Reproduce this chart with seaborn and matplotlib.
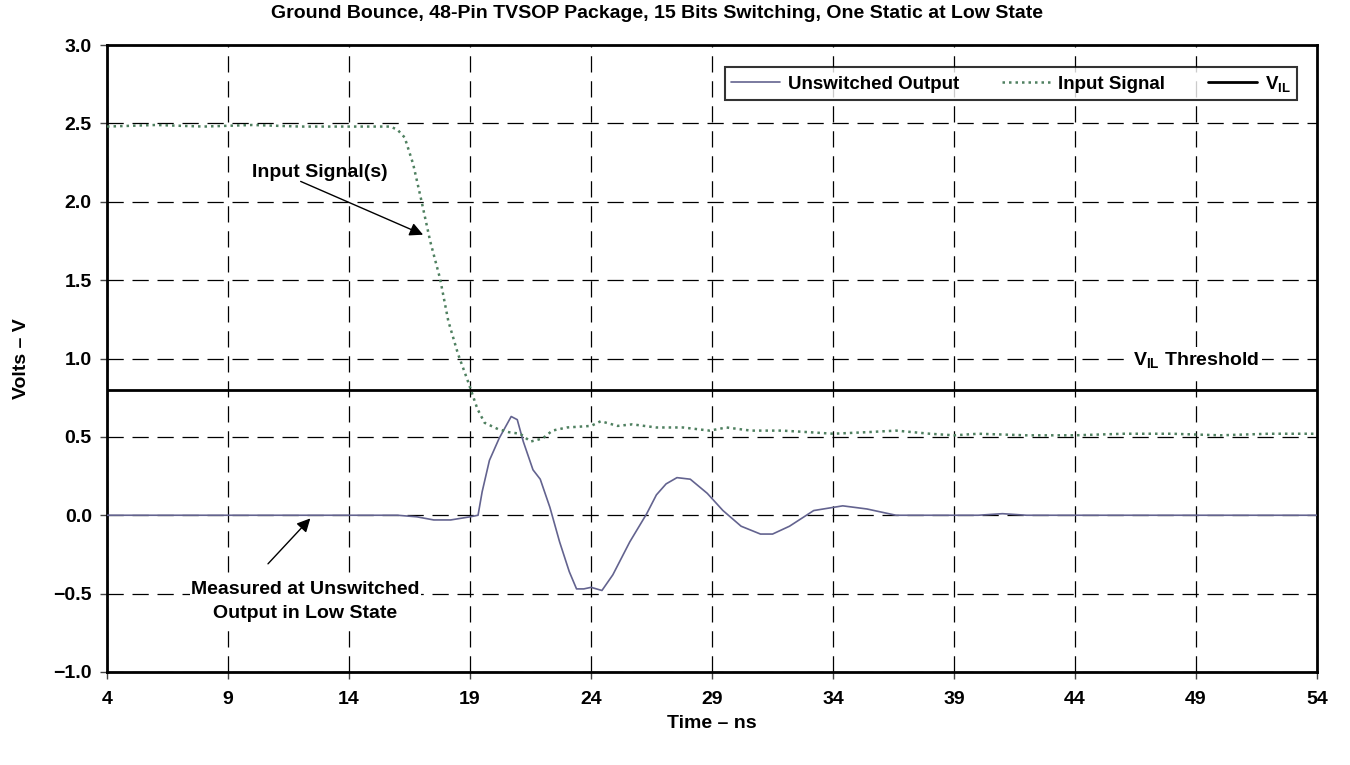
import matplotlib
matplotlib.use("Agg")
import matplotlib.pyplot as plt
import seaborn as sns
import pandas as pd

# ---- data ----
green_x = [4, 6, 8, 10, 12, 14, 15.0, 15.7, 16.0, 16.3, 16.65, 17.0, 17.35, 17.76, 18.1,
           18.5, 18.9, 19.1, 19.3, 19.6, 20.15, 20.6, 21.07, 21.5, 22.0, 22.4, 23.0, 24.0,
           24.4, 25.1, 25.7, 26.7, 27.8, 28.9, 29.6, 30.6, 31.9, 33.0, 34.0, 35.4, 36.6,
           38, 39, 40, 42, 44, 46, 48, 50, 52, 54]
green_y = [2.48, 2.49, 2.48, 2.49, 2.48, 2.48, 2.48, 2.48, 2.46, 2.41, 2.24, 2.0, 1.75, 1.51,
           1.24, 1.03, 0.86, 0.77, 0.68, 0.59, 0.55, 0.53, 0.52, 0.47, 0.49, 0.54, 0.56, 0.57,
           0.60, 0.57, 0.58, 0.56, 0.56, 0.54, 0.56, 0.54, 0.54, 0.53, 0.52, 0.53, 0.54,
           0.52, 0.51, 0.52, 0.51, 0.51, 0.52, 0.52, 0.51, 0.52, 0.52]

blue_x = [4, 8, 12, 14, 16, 16.8, 17.5, 18.2, 19.0, 19.33, 19.5, 19.8, 20.2, 20.7, 20.95,
          21.2, 21.6, 21.9, 22.3, 22.7, 23.1, 23.4, 23.7, 24.0, 24.45, 24.9, 25.6, 26.3,
          26.7, 27.1, 27.55, 28.1, 28.8, 29.45, 30.2, 31.0, 31.5, 32.2, 33.2, 34.4, 35.4,
          36.6, 38, 40, 41, 42, 44, 46, 48, 50, 52, 54]
blue_y = [0.0, 0.0, 0.0, 0.0, 0.0, -0.01, -0.03, -0.03, -0.01, 0.0, 0.15, 0.35, 0.49, 0.63,
          0.61, 0.47, 0.29, 0.23, 0.05, -0.17, -0.36, -0.47, -0.47, -0.46, -0.48, -0.38,
          -0.17, 0.01, 0.13, 0.20, 0.24, 0.23, 0.14, 0.03, -0.07, -0.12, -0.12, -0.07, 0.03,
          0.06, 0.04, 0.0, 0.0, 0.0, 0.01, 0.0, 0.0, 0.0, 0.0, 0.0, 0.0, 0.0]

vil_level = 0.8
x_ticks = [4, 9, 14, 19, 24, 29, 34, 39, 44, 49, 54]
y_ticks = [-1.0, -0.5, 0.0, 0.5, 1.0, 1.5, 2.0, 2.5, 3.0]

title = "Ground Bounce, 48-Pin TVSOP Package, 15 Bits Switching, One Static at Low State"

# ---- style ----
sns.set_theme(style="white")
plt.rcParams['font.family'] = ['Liberation Sans', 'DejaVu Sans']
plt.rcParams['font.weight'] = 'bold'
plt.rcParams['mathtext.fontset'] = 'custom'
plt.rcParams['mathtext.rm'] = 'Liberation Sans:bold'
plt.rcParams['mathtext.bf'] = 'Liberation Sans:bold'
plt.rcParams['mathtext.it'] = 'Liberation Sans:bold'
for k in ['text.color', 'axes.labelcolor', 'xtick.color', 'ytick.color']:
    plt.rcParams[k] = 'black'

FS = 14

fig = plt.figure(figsize=(13.5, 7.65), dpi=100)
ax = fig.add_axes([0.0793, 0.1216, 0.8963, 0.8195])

df_blue = pd.DataFrame({"x": blue_x, "y": blue_y})
df_green = pd.DataFrame({"x": green_x, "y": green_y})

sns.lineplot(data=df_blue, x="x", y="y", ax=ax, color="#63638f", lw=1.2,
             estimator=None, label="Unswitched Output", zorder=4)
sns.lineplot(data=df_green, x="x", y="y", ax=ax, color="#4f8060", lw=1.8,
             estimator=None, linestyle=(0, (1, 1.6)), label="Input Signal", zorder=4)
ax.axhline(vil_level, color="black", lw=2.0, label=r"V$_{\mathbf{IL}}$", zorder=3)

ax.set_xlim(4, 54)
ax.set_ylim(-1.0, 3.0)
ax.set_xticks(x_ticks)
ax.set_yticks(y_ticks)
ax.set_xticklabels([str(t) for t in x_ticks], fontsize=FS, fontweight='bold')
ax.set_yticklabels([f"{t:.1f}".replace("-", "\u2212") for t in y_ticks], fontsize=FS, fontweight='bold')
ax.tick_params(axis='both', which='major', length=5, width=1, color='#444444', direction='out',
               bottom=True, left=True)
ax.tick_params(axis='x', pad=9)
ax.tick_params(axis='y', pad=6)

ax.grid(True, color='black', lw=0.9, linestyle=(0, (13, 7)))
for s in ax.spines.values():
    s.set_color('black')
    s.set_linewidth(2.0)

ax.set_xlabel("Time \u2013 ns", fontsize=FS, fontweight='bold', labelpad=5)
ax.set_ylabel("Volts \u2013 V", fontsize=FS, fontweight='bold', labelpad=17)
fig.text(0.487, 0.982, title, ha='center', va='center', fontsize=FS, fontweight='bold')

leg = ax.legend(loc='upper right', bbox_to_anchor=(0.9835, 0.965), ncol=3, frameon=True,
                fancybox=False, edgecolor='black', fontsize=FS - 0.5, handlelength=2.6,
                columnspacing=2.3, borderpad=0.35, handletextpad=0.4, borderaxespad=0)
leg.get_frame().set_linewidth(1.5)
for t in leg.get_texts():
    t.set_fontweight('bold')

# annotations
ax.text(12.8, 2.19, "Input Signal(s)", ha='center', va='center', fontsize=FS,
        fontweight='bold', zorder=6)
ax.annotate("", xy=(17.06, 1.79), xytext=(12.0, 2.13),
            arrowprops=dict(arrowstyle='-|>', color='black', lw=1,
                            mutation_scale=20, shrinkA=0, shrinkB=0), zorder=6)
ax.annotate("", xy=(12.4, -0.02), xytext=(10.65, -0.31),
            arrowprops=dict(arrowstyle='-|>', color='black', lw=1,
                            mutation_scale=20, shrinkA=0, shrinkB=0), zorder=6)
ax.text(12.2, -0.55, "Measured at Unswitched\nOutput in Low State", ha='center', va='center',
        fontsize=FS, fontweight='bold', linespacing=1.6,
        bbox=dict(facecolor='white', edgecolor='none', pad=1), zorder=6)
ax.text(49.0, 0.99, r"V$_{\mathbf{IL}}$ Threshold", ha='center', va='center',
        fontsize=FS, fontweight='bold',
        bbox=dict(facecolor='white', edgecolor='none', pad=2), zorder=6)

fig.savefig("out.png", dpi=100)
